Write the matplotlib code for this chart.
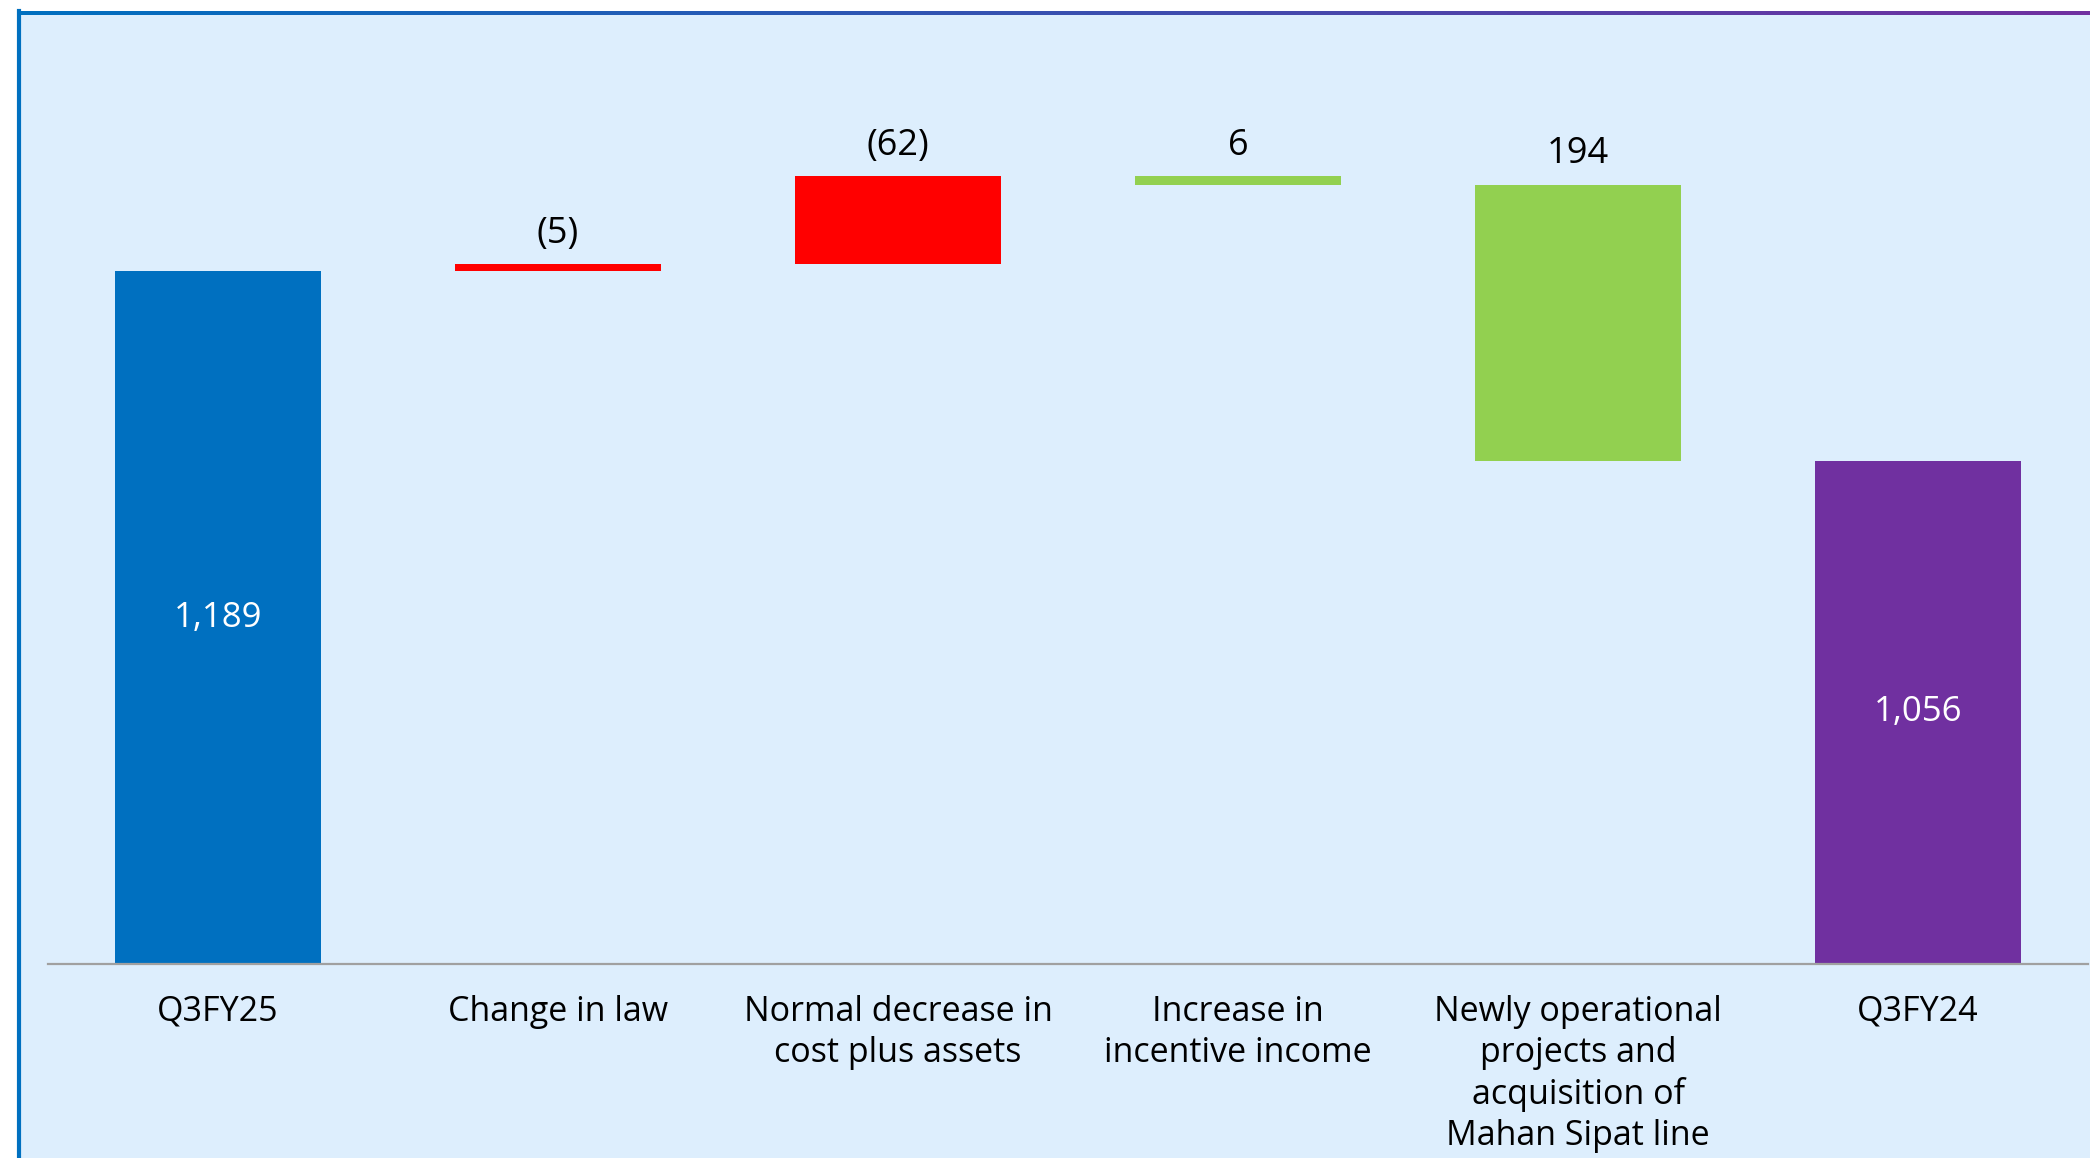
import matplotlib
matplotlib.use("Agg")
import matplotlib.pyplot as plt
import numpy as np
from matplotlib.patches import Rectangle
from matplotlib.colors import LinearSegmentedColormap

# ---- data ----
categories = ["Q3FY25", "Change in law", "Normal decrease in\ncost plus assets",
              "Increase in\nincentive income",
              "Newly operational\nprojects and\nacquisition of\nMahan Sipat line",
              "Q3FY24"]
q3fy25_total = 1189
q3fy24_total = 1056
changes = [-5, -62, 6, 194]          # the four bridge items, left to right
value_labels = ["1,189", "(5)", "(62)", "6", "194", "1,056"]

# ---- colours ----
C_START = "#0070C0"
C_END = "#7030A0"
C_NEG = "#FF0000"
C_POS = "#92D050"
BG = "#DDEEFD"

W, H = 2090, 1158
fig = plt.figure(figsize=(W / 100, H / 100), dpi=100)
fig.patch.set_facecolor("white")

# panel background
fig.add_artist(Rectangle((19 / W, 0), 1 - 19 / W, 1 - 12 / H, transform=fig.transFigure,
                         facecolor=BG, edgecolor="none", zorder=0))
# left border
fig.add_artist(plt.Line2D([18.5 / W, 18.5 / W], [0, 1 - 11 / H], transform=fig.transFigure,
                          color=C_START, lw=3.0, zorder=1))
# top gradient border
gax = fig.add_axes([17 / W, 1 - 15 / H, 1 - 17 / W, 4 / H])
grad = np.linspace(0, 1, 512).reshape(1, -1)
gax.imshow(grad, aspect="auto", cmap=LinearSegmentedColormap.from_list("g", [C_START, C_END]))
gax.axis("off")

ax = fig.add_axes([48 / W, 1 - 964 / H, 2040 / W, 950 / H])
ax.set_facecolor("none")

x = np.arange(len(categories))
bottoms, heights, colors = [], [], []
bottoms.append(0); heights.append(q3fy25_total); colors.append(C_START)
for i, c in enumerate(changes):
    right_level = q3fy24_total + sum(changes[i + 1:])
    bottoms.append(min(right_level, right_level + c))
    heights.append(abs(c))
    colors.append(C_POS if c > 0 else C_NEG)
bottoms.append(0); heights.append(q3fy24_total); colors.append(C_END)

ax.bar(x, heights, bottom=bottoms, width=0.607, color=colors, zorder=2)

ymin, ymax = 702, 1370
ax.set_ylim(ymin, ymax)
ax.set_xlim(-0.5, 5.5)

font = "Open Sans"
for i in range(len(categories)):
    top = bottoms[i] + heights[i]
    if i in (0, len(categories) - 1):
        ax.text(x[i], (ymin + top) / 2, value_labels[i], ha="center", va="center",
                color="white", fontsize=25, family=font, zorder=3)
    else:
        ax.annotate(value_labels[i], (x[i], top), xytext=(0, 22), textcoords="offset points",
                    ha="center", va="center", fontsize=26, family=font, color="black")

ax.set_xticks(x)
ax.set_xticklabels(categories, fontsize=24.5, family=font, linespacing=1.27)
ax.tick_params(axis="x", length=0, pad=22)
ax.set_yticks([])
for s in ("left", "right", "top"):
    ax.spines[s].set_visible(False)
ax.spines["bottom"].set_color("#A0A0A0")
ax.spines["bottom"].set_linewidth(1.6)

fig.savefig("out.png", dpi=100, facecolor=fig.get_facecolor())
